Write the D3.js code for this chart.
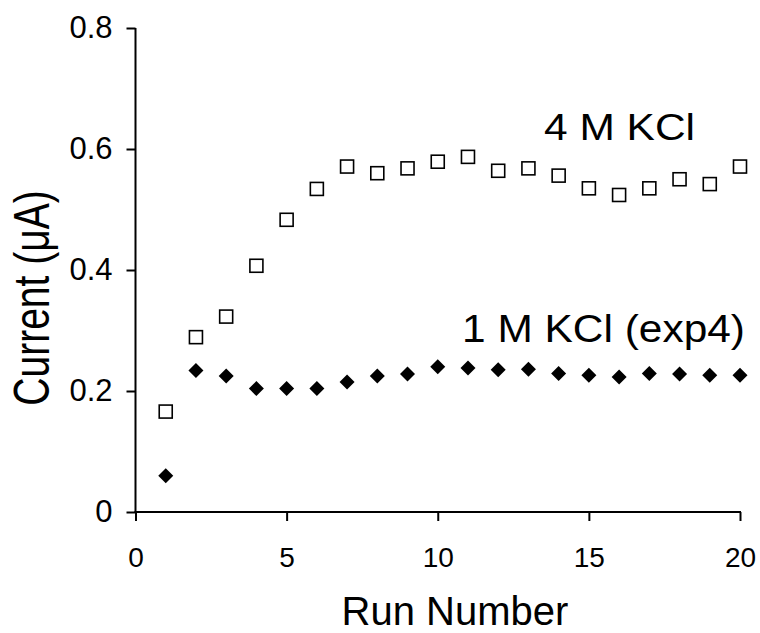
<!DOCTYPE html>
<html>
<head>
<meta charset="utf-8">
<script src="https://cdn.jsdelivr.net/npm/d3@7"></script>
<style>
  html, body { margin: 0; padding: 0; background: #fff; }
  svg { display: block; font-family: "Liberation Sans", Arial, sans-serif; }
</style>
</head>
<body>
<svg id="chart" width="760" height="633"></svg>
<script>
const runs = [1,2,3,4,5,6,7,8,9,10,11,12,13,14,15,16,17,18,19,20];
const kcl4 = [0.166,0.289,0.323,0.407,0.483,0.534,0.571,0.560,0.568,0.579,0.587,0.564,0.568,0.556,0.535,0.524,0.535,0.550,0.542,0.571];
const kcl1 = [0.060,0.234,0.225,0.204,0.204,0.204,0.215,0.225,0.228,0.240,0.238,0.235,0.236,0.229,0.226,0.223,0.229,0.228,0.226,0.226];
const xTicks = [0,5,10,15,20];
const yTicks = [0,0.2,0.4,0.6,0.8];
const yTickLabels = ["0","0.2","0.4","0.6","0.8"];
const labels = ["4 M KCl", "1 M KCl (exp4)"];

const svg = d3.select("#chart");
const x = d3.scaleLinear().domain([0,20]).range([135.5,740]);
const y = d3.scaleLinear().domain([0,0.8]).range([512,28]);

const gx = svg.append("g").attr("transform", "translate(0,512)")
  .call(d3.axisBottom(x).tickValues(xTicks).tickSize(9).tickPadding(26).tickSizeOuter(0));
const gy = svg.append("g").attr("transform", "translate(135.5,0)")
  .call(d3.axisLeft(y).tickValues(yTicks).tickFormat((d,i)=>yTickLabels[i]).tickSize(9).tickPadding(14).tickSizeOuter(0));
[gx, gy].forEach(g => {
  g.select(".domain").attr("stroke","#000").attr("stroke-width",2);
  g.selectAll(".tick line").attr("stroke","#000").attr("stroke-width",2);
  g.selectAll(".tick text").attr("fill","#000")
    .attr("font-family","'Liberation Sans', Arial, sans-serif");
});
gx.selectAll(".tick text").attr("font-size",28);
gy.selectAll(".tick text").attr("font-size",31);
gx.select(".domain").attr("d", `M${x(0)-1},0H${x(20)+1}`);
gy.select(".domain").attr("d", `M0,${y(0)+1}V${y(0.8)}`);

// 4 M KCl squares
svg.append("g").selectAll("rect").data(runs).join("rect")
  .attr("x", (d)=>x(d)-6.5).attr("y", (d,i)=>y(kcl4[i])-6.5)
  .attr("width",13).attr("height",13)
  .attr("fill","#fff").attr("stroke","#000").attr("stroke-width",1.6);

// 1 M KCl diamonds
const diamond = "M0,-7.5L7.5,0L0,7.5L-7.5,0Z";
svg.append("g").selectAll("path").data(runs).join("path")
  .attr("d", diamond)
  .attr("transform", (d,i)=>`translate(${x(d)},${y(kcl1[i])})`)
  .attr("fill","#000");

// series labels
svg.append("text").attr("x",544).attr("y",140).attr("font-size",36)
  .attr("textLength",151).attr("lengthAdjust","spacingAndGlyphs").attr("fill","#000").text(labels[0]);
svg.append("text").attr("x",462).attr("y",342).attr("font-size",39)
  .attr("textLength",283).attr("lengthAdjust","spacingAndGlyphs").attr("fill","#000").text(labels[1]);

// axis titles
svg.append("text").attr("x",455).attr("y",625).attr("text-anchor","middle")
  .attr("font-size",40).attr("fill","#000").text("Run Number");
svg.append("text").attr("transform","translate(49,298) rotate(-90) scale(1,1.3)").attr("text-anchor","middle")
  .attr("font-size",39).attr("fill","#000").text("Current (μA)");
</script>
</body>
</html>
